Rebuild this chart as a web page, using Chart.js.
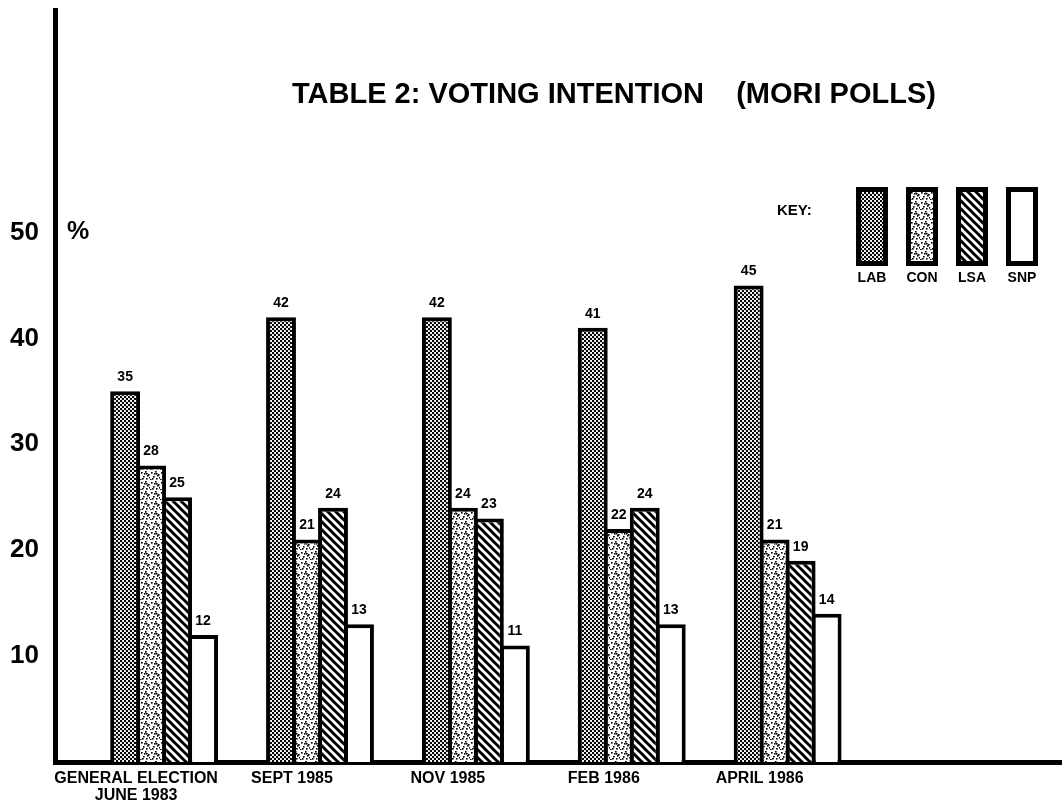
<!DOCTYPE html>
<html>
<head>
<meta charset="utf-8">
<title>Table 2: Voting Intention (MORI Polls)</title>
<script src="https://cdn.jsdelivr.net/npm/chart.js@4.4.0/dist/chart.umd.min.js"></script>
<style>
  html, body { margin: 0; padding: 0; background: #fff; }
  #wrap { width: 1062px; height: 811px; }
</style>
</head>
<body>
<div id="wrap"><canvas id="votingChart"></canvas></div>
<script>
// Voting intention, MORI polls (%)
var polls = [['GENERAL ELECTION', 'JUNE 1983'], 'SEPT 1985', 'NOV 1985', 'FEB 1986', 'APRIL 1986'];
var lab = [35, 42, 42, 41, 45];
var con = [28, 21, 24, 22, 21];
var lsa = [25, 24, 23, 24, 19];
var snp = [12, 13, 11, 13, 14];
var parties = ['LAB', 'CON', 'LSA', 'SNP'];
var yTicks = [10, 20, 30, 40, 50];

var FONT = '"Liberation Sans", Arial, sans-serif';
var ctx = document.getElementById('votingChart').getContext('2d');

// fill textures for the bars (like the printed screens)
function makePattern(size, paint) {
  var c = document.createElement('canvas');
  c.width = size;
  c.height = size;
  var g = c.getContext('2d');
  g.fillStyle = '#fff';
  g.fillRect(0, 0, size, size);
  g.fillStyle = '#000';
  g.strokeStyle = '#000';
  paint(g);
  return ctx.createPattern(c, 'repeat');
}

var dots = makePattern(4, function (g) {
  g.beginPath(); g.arc(1, 1, 1.2, 0, Math.PI * 2); g.fill();
  g.beginPath(); g.arc(3, 3, 1.2, 0, Math.PI * 2); g.fill();
});

var stipple = makePattern(10, function (g) {
  [[1, 2], [5, 1], [8, 4], [3, 6], [6, 8], [0, 9], [9, 7], [4, 3], [7, 5], [2, 8], [6, 3]].forEach(function (p) {
    g.fillRect(p[0], p[1], 1.6, 1.6);
  });
});

var stripes = makePattern(8, function (g) {
  g.lineWidth = 3;
  [-8, 0, 8].forEach(function (k) {
    g.beginPath();
    g.moveTo(k - 1, -1);
    g.lineTo(k + 9, 9);
    g.stroke();
  });
});

var fills = [dots, stipple, stripes, '#fff'];

function series(values) {
  return values.map(function (v, i) { return { x: i, y: v }; });
}

// title, key and value labels
var decorations = {
  id: 'decorations',
  afterDatasetsDraw: function (chart) {
    var c = chart.ctx;
    c.save();
    c.fillStyle = '#000';

    // values above bars
    c.textAlign = 'center';
    c.textBaseline = 'bottom';
    c.font = 'bold 14px ' + FONT;
    chart.data.datasets.forEach(function (ds, k) {
      chart.getDatasetMeta(k).data.forEach(function (bar, i) {
        c.fillText(String(ds.data[i].y), bar.x, bar.y - 7);
      });
    });

    // title
    c.textBaseline = 'middle';
    c.font = 'bold 29px ' + FONT;
    c.fillText('TABLE 2: VOTING INTENTION    (MORI POLLS)', 614, 95);

    // % unit
    c.textAlign = 'left';
    c.font = 'bold 25px ' + FONT;
    c.fillText('%', 67, 232);

    // key
    c.font = 'bold 15px ' + FONT;
    c.fillText('KEY:', 777, 211);
    c.textAlign = 'center';
    c.font = 'bold 14px ' + FONT;
    chart.data.datasets.forEach(function (ds, k) {
      var x = 856 + k * 50, y = 187, w = 32, h = 79;
      c.fillStyle = ds.backgroundColor;
      c.fillRect(x, y, w, h);
      c.lineWidth = 5;
      c.strokeStyle = '#000';
      c.strokeRect(x + 2.5, y + 2.5, w - 5, h - 5);
      c.fillStyle = '#000';
      c.fillText(ds.label, x + w / 2, 278);
    });
    c.restore();
  }
};

new Chart(ctx, {
  type: 'bar',
  data: {
    datasets: [lab, con, lsa, snp].map(function (vals, k) {
      return {
        label: parties[k],
        data: series(vals),
        backgroundColor: fills[k],
        borderColor: '#000',
        borderWidth: 4,
        borderSkipped: 'start',
        barPercentage: 1.15,
        categoryPercentage: 0.667
      };
    })
  },
  options: {
    responsive: true,
    maintainAspectRatio: false,
    animation: false,
    layout: { padding: { top: 10, right: 0, bottom: 0, left: 0 } },
    plugins: {
      legend: { display: false },
      tooltip: { enabled: false }
    },
    scales: {
      x: {
        type: 'linear',
        offset: false,
        min: -0.7,
        max: 5.76,
        grid: { display: false, drawTicks: false, offset: false },
        border: { color: '#000', width: 5 },
        afterBuildTicks: function (s) {
          s.ticks = polls.map(function (p, i) { return { value: i }; });
        },
        afterFit: function (s) {
          s.height = 49;
          s.paddingLeft = 0;
          s.paddingRight = 0;
        },
        ticks: {
          color: '#000',
          font: { family: FONT, size: 16, weight: 'bold', lineHeight: 1.08 },
          padding: 8,
          labelOffset: -28,
          maxRotation: 0,
          autoSkip: false,
          callback: function (v) { return polls[v]; }
        }
      },
      y: {
        min: 0,
        max: 71,
        grid: { display: false, drawTicks: false },
        border: { color: '#000', width: 5 },
        afterBuildTicks: function (s) {
          s.ticks = yTicks.map(function (v) { return { value: v }; });
        },
        afterFit: function (s) {
          s.width = 55;
          s.paddingTop = 0;
          s.paddingBottom = 0;
        },
        ticks: {
          color: '#000',
          font: { family: FONT, size: 26, weight: 'bold' },
          padding: 16
        }
      }
    }
  },
  plugins: [decorations]
});
</script>
</body>
</html>
